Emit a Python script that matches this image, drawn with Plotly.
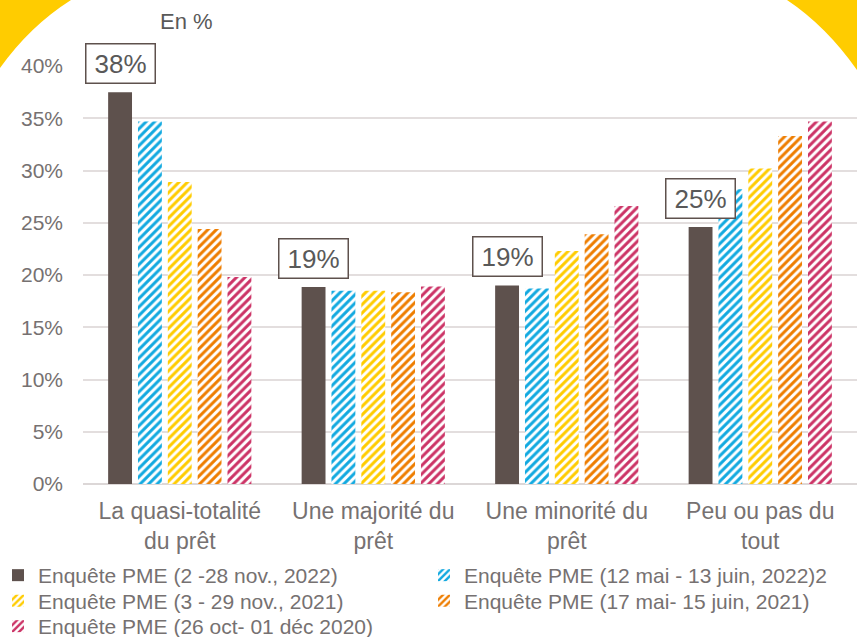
import plotly.graph_objects as go

categories = ["La quasi-totalité<br>du prêt", "Une majorité du<br>prêt",
              "Une minorité du<br>prêt", "Peu ou pas du<br>tout"]
series_names = ["Enquête PME (2 -28 nov., 2022)",
                "Enquête PME (12 mai - 13 juin, 2022)2",
                "Enquête PME (3 - 29 nov., 2021)",
                "Enquête PME (17 mai- 15 juin, 2021)",
                "Enquête PME (26 oct- 01 déc 2020)"]
s_nov2022 = [37.5, 18.85, 19.0, 24.6]
s_jun2022 = [34.7, 18.5, 18.7, 28.2]
s_nov2021 = [28.9, 18.5, 22.3, 30.2]
s_jun2021 = [24.4, 18.35, 23.9, 33.3]
s_dec2020 = [19.8, 18.9, 26.6, 34.7]
series_values = [s_nov2022, s_jun2022, s_nov2021, s_jun2021, s_dec2020]
y_ticks = [0, 5, 10, 15, 20, 25, 30, 35, 40]
y_tick_labels = [f"{v}%" for v in y_ticks]

colors = ["#5E514D", "#12A9E0", "#FFCC00", "#EE7D00", "#CC3366"]
patterned = [False, True, True, True, True]

W, H = 857, 637
ML, MR, MT, MB = 83, 0, 66, 153
PW, PH = W - ML - MR, H - MT - MB
FONT = "Liberation Sans, Arial, sans-serif"
GREY = "#767171"
BARGAP = 0.229


def px(xp):
    return (xp - ML) / PW


def py(yp):
    return (H - MB - yp) / PH


legend_ids = ["legend", "legend2", "legend3", "legend4", "legend5"]

fig = go.Figure()
for name, vals, col, pat, lg in zip(series_names, series_values, colors,
                                    patterned, legend_ids):
    marker = dict(color=col, line=dict(width=0))
    if pat:
        marker = dict(color="white", line=dict(width=0),
                      pattern=dict(shape="/", fgcolor=col, bgcolor="white",
                                   fillmode="replace", size=6, solidity=0.5))
    fig.add_trace(go.Bar(x=categories, y=vals, name=name, marker=marker,
                         legend=lg, hoverinfo="skip"))

# value boxes above the first series
slot = (1 - BARGAP) / len(series_values)
for i, v in enumerate(s_nov2022):
    fig.add_annotation(x=i - 2 * slot, y=v, xref="x", yref="y",
                       text=f"{round(v)}%", showarrow=False,
                       yanchor="bottom", yshift=8, width=60,
                       font=dict(family=FONT, size=26, color="#595959"),
                       bordercolor="#5E514D", borderwidth=1.5, borderpad=4,
                       bgcolor="white")

fig.add_annotation(text="En %", xref="paper", yref="paper",
                   x=px(158), y=py(22),
                   xanchor="left", yanchor="middle", showarrow=False,
                   font=dict(family=FONT, size=22, color="#595959"))

yellow = "#FFCC00"
left = f"M {px(0)},{py(0)} L {px(71)},{py(0)} Q {px(30)},{py(26)} {px(0)},{py(68)} Z"
right = f"M {px(857)},{py(0)} L {px(787)},{py(0)} Q {px(826)},{py(26)} {px(857)},{py(70)} Z"
for p in (left, right):
    fig.add_shape(type="path", path=p, xref="paper", yref="paper",
                  fillcolor=yellow, line=dict(width=0), layer="above")

legend_layouts = {}
col_left = [-2, 424]
for k, lg in enumerate(legend_ids):
    r, c = divmod(k, 2)
    legend_layouts[lg] = dict(
        orientation="h", xref="paper", yref="paper",
        x=px(col_left[c]), y=py(575.5 + 25.5 * r),
        xanchor="left", yanchor="middle",
        font=dict(family=FONT, size=21, color=GREY),
        itemwidth=30, bgcolor="rgba(0,0,0,0)")

fig.update_layout(
    width=W, height=H,
    margin=dict(l=ML, r=MR, t=MT, b=MB, pad=0, autoexpand=False),
    paper_bgcolor="white", plot_bgcolor="white",
    barmode="group", bargap=BARGAP, bargroupgap=0.2,
    font=dict(family=FONT, size=21, color=GREY),
    xaxis=dict(type="category", range=[-0.5, 3.5], showgrid=False,
               showline=False, ticks="", ticklabelstandoff=11,
               automargin=False,
               tickfont=dict(family=FONT, size=23, color=GREY)),
    yaxis=dict(range=[0, 40], tickmode="array", tickvals=y_ticks,
               ticktext=y_tick_labels,
               showgrid=True, gridcolor="#E3DEDE", gridwidth=1.5,
               zeroline=True, zerolinecolor="#DCD7D7", zerolinewidth=2,
               showline=False, ticks="", ticklabelstandoff=19,
               automargin=False,
               tickfont=dict(family=FONT, size=21, color=GREY)),
    showlegend=True,
    **legend_layouts,
)

fig.write_html("out.html", config={"displayModeBar": False},
               post_script="document.body.style.margin='0';")
